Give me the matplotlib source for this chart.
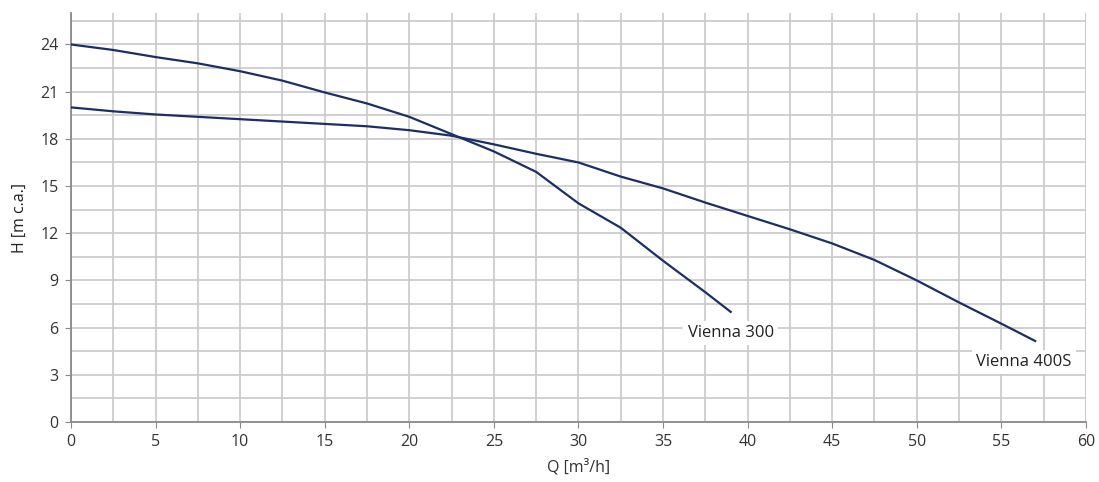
import matplotlib
matplotlib.use("Agg")
import matplotlib.pyplot as plt
from matplotlib.ticker import MultipleLocator

plt.rcParams["font.family"] = ["Open Sans", "DejaVu Sans"]

# Vienna 400S (the flatter curve)
q_400s = [0, 2.5, 5, 7.5, 10, 12.5, 15, 17.5, 20, 22.5, 25, 27.5, 30, 32.5, 35,
          37.5, 40, 42.5, 45, 47.5, 50, 52.5, 55, 57]
h_400s = [20.0, 19.75, 19.55, 19.4, 19.25, 19.1, 18.95, 18.8, 18.55, 18.2, 17.65,
          17.05, 16.5, 15.6, 14.85, 13.95, 13.1, 12.25, 11.35, 10.3, 9.0, 7.6, 6.25, 5.15]

# Vienna 300 (the steeper curve)
q_300 = [0, 2.5, 5, 7.5, 10, 12.5, 15, 17.5, 20, 22.5, 25, 27.5, 30, 32.5, 35,
         37.5, 39]
h_300 = [24.0, 23.65, 23.2, 22.8, 22.3, 21.7, 20.95, 20.25, 19.4, 18.3, 17.2,
         15.9, 13.9, 12.35, 10.25, 8.25, 7.0]

labels = [("Vienna 300", 39.0, 5.65), ("Vienna 400S", 56.35, 3.8)]

line_color = "#1b2f66"
grid_color = "#c8c8c8"
spine_color = "#8a8a8a"

fig = plt.figure(figsize=(10.99, 4.82), dpi=100)
ax = fig.add_axes([0.0646, 0.1245, 0.9235, 0.8485])

ax.plot(q_400s, h_400s, color=line_color, lw=1.6, zorder=3,
        solid_joinstyle="round")
ax.plot(q_300, h_300, color=line_color, lw=1.6, zorder=3,
        solid_joinstyle="round")

for text, x, y in labels:
    ax.text(x, y, text, ha="center", va="center", fontsize=12, color="#222222",
            zorder=4, bbox=dict(facecolor="white", edgecolor="none", pad=3))

ax.set_xlim(0, 60)
ax.set_ylim(0, 26)
ax.xaxis.set_major_locator(MultipleLocator(5))
ax.xaxis.set_minor_locator(MultipleLocator(2.5))
ax.yaxis.set_minor_locator(MultipleLocator(1.5))
ax.set_yticks([0, 3, 6, 9, 12, 15, 18, 21, 24])

ax.grid(which="both", color=grid_color, lw=1.2, zorder=0)
ax.set_axisbelow(True)

for side in ("top", "right"):
    ax.spines[side].set_visible(False)
for side in ("left", "bottom"):
    ax.spines[side].set_color(spine_color)
    ax.spines[side].set_linewidth(1.3)

ax.tick_params(which="major", length=4, color=spine_color, labelsize=11.5,
               labelcolor="#333333", pad=5)
ax.tick_params(which="minor", length=0)

# right edge grid line at x=60
ax.axvline(60, color=grid_color, lw=1.2, zorder=0)

ax.set_xlabel("Q [m³/h]", fontsize=11.5, color="#333333", labelpad=6)
ax.set_ylabel("H [m c.a.]", fontsize=11.5, color="#222222", labelpad=9)

fig.savefig("out.png", dpi=100)
